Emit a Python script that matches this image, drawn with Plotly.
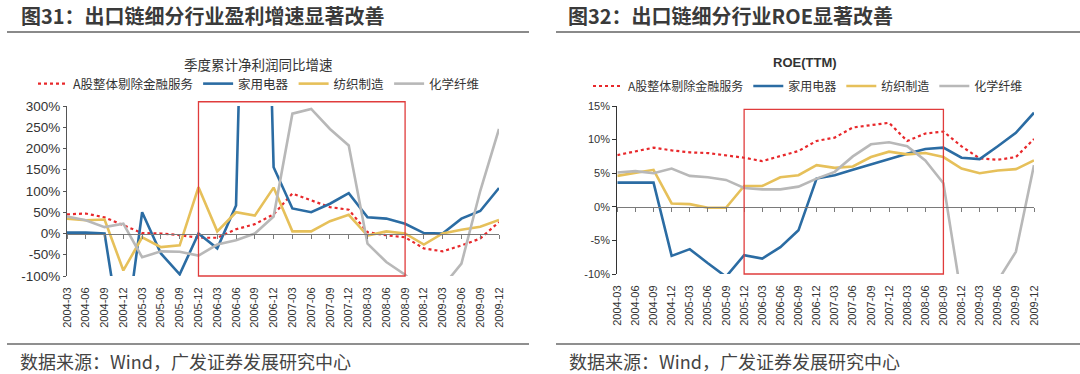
import plotly.graph_objects as go

# ---------------- data ----------------
quarters = ["2004-03", "2004-06", "2004-09", "2004-12",
            "2005-03", "2005-06", "2005-09", "2005-12",
            "2006-03", "2006-06", "2006-09", "2006-12",
            "2007-03", "2007-06", "2007-09", "2007-12",
            "2008-03", "2008-06", "2008-09", "2008-12",
            "2009-03", "2009-06", "2009-09", "2009-12"]

series_names = ["A股整体剔除金融服务", "家用电器", "纺织制造", "化学纤维"]

# 图31: 季度累计净利润同比增速 (%)
a_share_growth = [45, 47, 38, 19, 1, 0, -4, -10, -10, 10, 22, 45,
                  94, 78, 62, 56, 3, -4, -9, -35, -42, -28, -12, 27]
appliance_growth = [2, 2, 0, -280, 50, -47, -96, 0, -35, 66, 1800, 156,
                    59, 50, 70, 95, 38, 35, 23, 1, 0, 35, 53, 107]
textile_growth = [35, 31, 33, -87, -9, -32, -28, 109, 5, 50, 42, 108,
                  5, 5, 29, 44, -5, 5, 0, -26, 0, 9, 16, 32]
fiber_growth = [40, 31, 15, 23, -56, -42, -43, -52, -26, -16, 0, 40,
                282, 293, 246, 207, -24, -67, -97, -140, -125, -71, 100, 246]

# 图32: ROE(TTM) (%)
a_share_roe = [7.7, 8.3, 8.8, 8.4, 8.1, 8.0, 7.7, 7.3, 6.8, 7.5, 8.3, 9.8,
               10.3, 11.8, 12.2, 12.5, 9.8, 10.9, 11.2, 9.0, 7.2, 7.0, 7.4, 10.1]
appliance_roe = [3.6, 3.6, 3.6, -7.3, -6.3, -8.4, -10.4, -7.2, -7.7, -6.0, -3.5, 4.2,
                 4.7, 5.5, 6.3, 7.2, 7.9, 8.6, 8.8, 7.3, 7.1, 9.0, 11.0, 14.0]
textile_roe = [4.6, 5.0, 5.5, 0.5, 0.4, -0.15, -0.15, 3.1, 3.1, 4.4, 4.7, 6.2,
               5.8, 6.0, 7.4, 8.2, 7.8, 8.0, 7.4, 5.7, 5.0, 5.4, 5.6, 6.9]
fiber_roe = [5.1, 5.3, 5.0, 5.7, 4.6, 4.4, 4.0, 2.8, 2.6, 2.6, 3.0, 4.2,
             5.2, 7.5, 9.3, 9.6, 9.0, 6.9, 3.5, -13.5, -14.0, -11.0, -6.7, 6.2]

left_ticks = [-100, -50, 0, 50, 100, 150, 200, 250, 300]
left_tick_labels = ["-100%", "-50%", "0%", "50%", "100%", "150%", "200%", "250%", "300%"]
right_ticks = [-10, -5, 0, 5, 10, 15]
right_tick_labels = ["-10%", "-5%", "0%", "5%", "10%", "15%"]

highlight_start = "2005-12"
highlight_end = "2008-09"
left_box_top = 310
right_box_top = 14.5

title_left = "图31：出口链细分行业盈利增速显著改善"
title_right = "图32：出口链细分行业ROE显著改善"
subtitle_left = "季度累计净利润同比增速"
subtitle_right = "ROE(TTM)"
source_text = "数据来源：Wind，广发证券发展研究中心"

# ---------------- styles ----------------
W, H = 1080, 374
colors = ["#e8282b", "#2b6ca3", "#e6c05a", "#b8b8b8"]
dashes = ["dot", "solid", "solid", "solid"]
widths = [2.2, 2.6, 2.6, 2.6]
CJK = "Noto Sans CJK SC"
LAT = "Liberation Sans, Arial"

def px_x(v):
    return v / W

def px_y(v):
    return 1 - v / H

L_dom_x = [px_x(67), px_x(499)]
L_dom_y = [px_y(276), px_y(106)]
R_dom_x = [px_x(617.3), px_x(1034)]
R_dom_y = [px_y(274), px_y(106)]

L_range = [-100, 300]
R_range = [-10, 15]

fig = go.Figure()

left_series = [a_share_growth, appliance_growth, textile_growth, fiber_growth]
right_series = [a_share_roe, appliance_roe, textile_roe, fiber_roe]

for name, vals, c, d, w in zip(series_names, left_series, colors, dashes, widths):
    fig.add_trace(go.Scatter(x=quarters, y=vals, mode="lines", name=name,
                             line=dict(color=c, dash=d, width=w),
                             xaxis="x", yaxis="y", legend="legend"))
for name, vals, c, d, w in zip(series_names, right_series, colors, dashes, widths):
    fig.add_trace(go.Scatter(x=quarters, y=vals, mode="lines", name=name,
                             line=dict(color=c, dash=d, width=w),
                             xaxis="x2", yaxis="y2", legend="legend2"))

# helper invisible traces to carry the zero-level category axes
fig.add_trace(go.Scatter(x=quarters, y=a_share_growth, mode="lines", opacity=0,
                         showlegend=False, hoverinfo="skip", xaxis="x3", yaxis="y"))
fig.add_trace(go.Scatter(x=quarters, y=a_share_roe, mode="lines", opacity=0,
                         showlegend=False, hoverinfo="skip", xaxis="x4", yaxis="y2"))

n = len(quarters)
xr = [0, n - 1]

def frac(v, rng):
    return (v - rng[0]) / (rng[1] - rng[0])

def zero_pos(dom, rng):
    return dom[0] + frac(0, rng) * (dom[1] - dom[0])

tick_font_x = dict(family=LAT, size=11, color="#333333")

fig.update_layout(
    template="none",
    width=W, height=H, autosize=False,
    margin=dict(l=0, r=0, t=0, b=0, pad=0, autoexpand=False),
    paper_bgcolor="white", plot_bgcolor="white",
    xaxis=dict(domain=L_dom_x, range=xr, type="category", anchor="y", automargin=False,
               showgrid=False, showline=False, zeroline=False,
               ticks="outside", ticklen=6, tickcolor="rgba(0,0,0,0)",
               tickangle=-90, tickfont=tick_font_x),
    yaxis=dict(domain=L_dom_y, range=L_range, anchor="x", automargin=False,
               tickmode="array", tickvals=left_ticks, ticktext=left_tick_labels,
               showgrid=False, zeroline=False, showline=True,
               linecolor="#555555", linewidth=1.2,
               ticks="outside", ticklen=3, tickcolor="#555555",
               tickfont=dict(family=LAT, size=13.5, color="#333333")),
    xaxis2=dict(domain=R_dom_x, range=xr, type="category", anchor="y2", automargin=False,
                showgrid=False, showline=False, zeroline=False,
                ticks="outside", ticklen=6, tickcolor="rgba(0,0,0,0)",
                tickangle=-90, tickfont=tick_font_x),
    yaxis2=dict(domain=R_dom_y, range=R_range, anchor="x2", automargin=False,
                tickmode="array", tickvals=right_ticks, ticktext=right_tick_labels,
                showgrid=False, zeroline=False, showline=True,
                linecolor="#333333", linewidth=1.2,
                ticks="outside", ticklen=4, tickcolor="#333333",
                tickfont=dict(family=LAT, size=11, color="#333333")),
    xaxis3=dict(overlaying="x", anchor="free", position=zero_pos(L_dom_y, L_range),
                range=xr, type="category", showgrid=False, zeroline=False, automargin=False,
                showline=True, linecolor="#7a7a7a", linewidth=1.3,
                ticks="outside", ticklen=4, tickcolor="#7a7a7a",
                showticklabels=False),
    xaxis4=dict(overlaying="x2", anchor="free", position=zero_pos(R_dom_y, R_range),
                range=xr, type="category", showgrid=False, zeroline=False, automargin=False,
                showline=True, linecolor="#7a7a7a", linewidth=1.3,
                ticks="outside", ticklen=4, tickcolor="#7a7a7a",
                showticklabels=False),
    legend=dict(orientation="h", x=px_x(259), y=px_y(84), xanchor="center", yanchor="middle",
                font=dict(family=CJK, size=12.5, color="#333333"),
                bgcolor="rgba(0,0,0,0)", itemwidth=30, tracegroupgap=0),
    legend2=dict(orientation="h", x=px_x(808), y=px_y(86), xanchor="center", yanchor="middle",
                 font=dict(family=CJK, size=12, color="#333333"),
                 bgcolor="rgba(0,0,0,0)", itemwidth=30, tracegroupgap=0),
)

# highlight boxes (y given as fraction of axis domain so the top edge is not clipped)
i0 = quarters.index(highlight_start)
i1 = quarters.index(highlight_end)
fig.add_shape(type="rect", xref="x", yref="y domain", x0=i0, x1=i1,
              y0=0, y1=frac(left_box_top, L_range),
              line=dict(color="#e03c3c", width=1.3), fillcolor="rgba(0,0,0,0)")
fig.add_shape(type="rect", xref="x2", yref="y2 domain", x0=i0, x1=i1,
              y0=0, y1=frac(right_box_top, R_range),
              line=dict(color="#e03c3c", width=1.3), fillcolor="rgba(0,0,0,0)")

# separator lines
for x0, x1 in [(7, 529), (556, 1080)]:
    fig.add_shape(type="line", xref="paper", yref="paper",
                  x0=px_x(x0), x1=px_x(x1), y0=px_y(32), y1=px_y(32),
                  line=dict(color="#8a8a8a", width=2))
    fig.add_shape(type="line", xref="paper", yref="paper",
                  x0=px_x(x0), x1=px_x(x1), y0=px_y(344), y1=px_y(344),
                  line=dict(color="#6a6a6a", width=1.3))

# titles
fig.add_annotation(text="<b>" + title_left + "</b>", xref="paper", yref="paper",
                   x=px_x(19), y=px_y(16), xanchor="left", yanchor="middle", showarrow=False,
                   font=dict(family=CJK, size=20, color="#3a3a3a"))
fig.add_annotation(text="<b>" + title_right + "</b>", xref="paper", yref="paper",
                   x=px_x(566), y=px_y(16), xanchor="left", yanchor="middle", showarrow=False,
                   font=dict(family=CJK, size=20, color="#3a3a3a"))
fig.add_annotation(text=subtitle_left, xref="paper", yref="paper",
                   x=px_x(258), y=px_y(64), xanchor="center", yanchor="middle", showarrow=False,
                   font=dict(family=CJK, size=13.5, color="#333333"))
fig.add_annotation(text="<b>" + subtitle_right + "</b>", xref="paper", yref="paper",
                   x=px_x(805), y=px_y(62), xanchor="center", yanchor="middle", showarrow=False,
                   font=dict(family=LAT, size=13, color="#333333"))
for xs in (18, 567):
    fig.add_annotation(text=source_text, xref="paper", yref="paper",
                       x=px_x(xs), y=px_y(361), xanchor="left", yanchor="middle", showarrow=False,
                       font=dict(family=CJK, size=18, color="#444444"))

fig.write_html("out.html", config={"responsive": False, "displayModeBar": False},
               post_script="document.body.style.margin='0';document.body.style.overflow='hidden';")
